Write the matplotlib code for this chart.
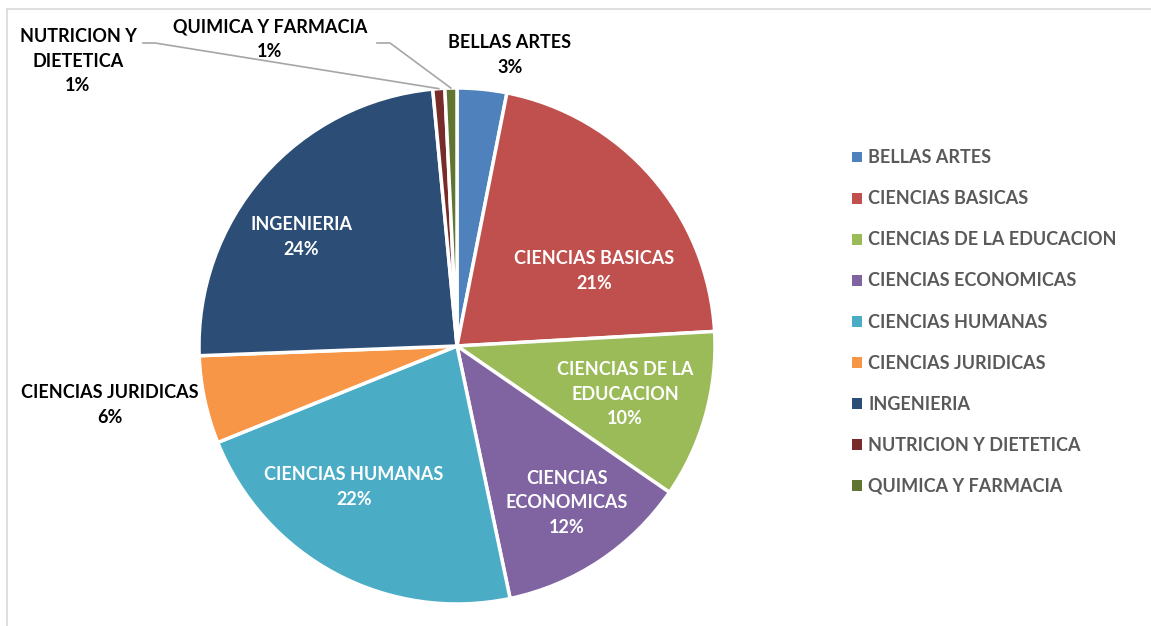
import numpy as np
import matplotlib.pyplot as plt
from matplotlib.lines import Line2D
from matplotlib.patches import Patch

# datos (porcentajes)
labels = ['BELLAS ARTES', 'CIENCIAS BASICAS', 'CIENCIAS DE LA EDUCACION',
          'CIENCIAS ECONOMICAS', 'CIENCIAS HUMANAS', 'CIENCIAS JURIDICAS',
          'INGENIERIA', 'NUTRICION Y DIETETICA', 'QUIMICA Y FARMACIA']
values = [3.1, 21.0, 10.5, 12.1, 22.2, 5.5, 24.1, 0.75, 0.75]
pct_text = ['3%', '21%', '10%', '12%', '22%', '6%', '24%', '1%', '1%']
slice_text = ['BELLAS ARTES', 'CIENCIAS BASICAS', 'CIENCIAS DE LA\nEDUCACION',
              'CIENCIAS\nECONOMICAS', 'CIENCIAS HUMANAS', 'CIENCIAS JURIDICAS',
              'INGENIERIA', 'NUTRICION Y\nDIETETICA', 'QUIMICA Y FARMACIA']
colors = ['#4f81bd', '#c0504d', '#9bbb59', '#8064a2', '#4bacc6',
          '#f79646', '#2c4d75', '#772c2a', '#5f7530']

plt.rcParams['font.family'] = ['Lato', 'DejaVu Sans']

fig = plt.figure(figsize=(11.51, 6.26), dpi=100)
W, H = 1151, 626
cx, cy, R = 457, 346, 258
half = 272
ax = fig.add_axes([(cx - half) / W, (H - cy - half) / H, 2 * half / W, 2 * half / H])

wedges, _ = ax.pie(values, colors=colors, startangle=90, counterclock=False,
                   radius=1, wedgeprops=dict(edgecolor='white', linewidth=2.5))
ax.set_xlim(-half / R, half / R)
ax.set_ylim(-half / R, half / R)
ax.axis('off')

def px(x, y):
    return (x - cx) / R, (cy - y) / R

# posicion de las etiquetas (pixeles de la imagen)
label_pos = [(510, 55), (594, 271), (625, 394), (567, 503), (354, 487),
             (110, 405), (301, 237), (78, 61), (270, 39)]
inside = [False, True, True, True, True, False, True, False, False]
for i in range(len(values)):
    tx, ty = px(*label_pos[i])
    ax.text(tx, ty, slice_text[i] + '\n' + pct_text[i], ha='center', va='center',
            color='white' if inside[i] else 'black', fontsize=13,
            fontweight='bold', linespacing=1.55, clip_on=False)

# lineas guia para las porciones pequenas
for i, (x0, x1) in {7: (143, 155), 8: (377, 390)}.items():
    w = wedges[i]
    ang = np.deg2rad((w.theta1 + w.theta2) / 2)
    ex, ey = np.cos(ang) * 1.0, np.sin(ang) * 1.0
    p0 = px(x0, 43)
    p1 = px(x1, 43)
    ax.plot([p0[0], p1[0], ex], [p0[1], p1[1], ey], color='#a6a6a6',
            linewidth=1.2, clip_on=False)

handles = [Patch(facecolor=c, edgecolor='none') for c in colors]
leg = fig.legend(handles, labels, loc='center left', bbox_to_anchor=(843 / W, 1 - 322 / H),
                 frameon=False, handlelength=0.55, handleheight=0.55,
                 handletextpad=0.35, labelspacing=1.33, borderpad=0,
                 prop=dict(family='Lato', weight='bold', size=13))
for t in leg.get_texts():
    t.set_color('#595959')

# borde del area del grafico
fig.add_artist(Line2D([7 / W, 1], [1 - 9 / H, 1 - 9 / H], color='#d9d9d9', linewidth=1.2))
fig.add_artist(Line2D([7 / W, 7 / W], [0, 1 - 9 / H], color='#d9d9d9', linewidth=1.2))

fig.savefig('out.png', dpi=100)
